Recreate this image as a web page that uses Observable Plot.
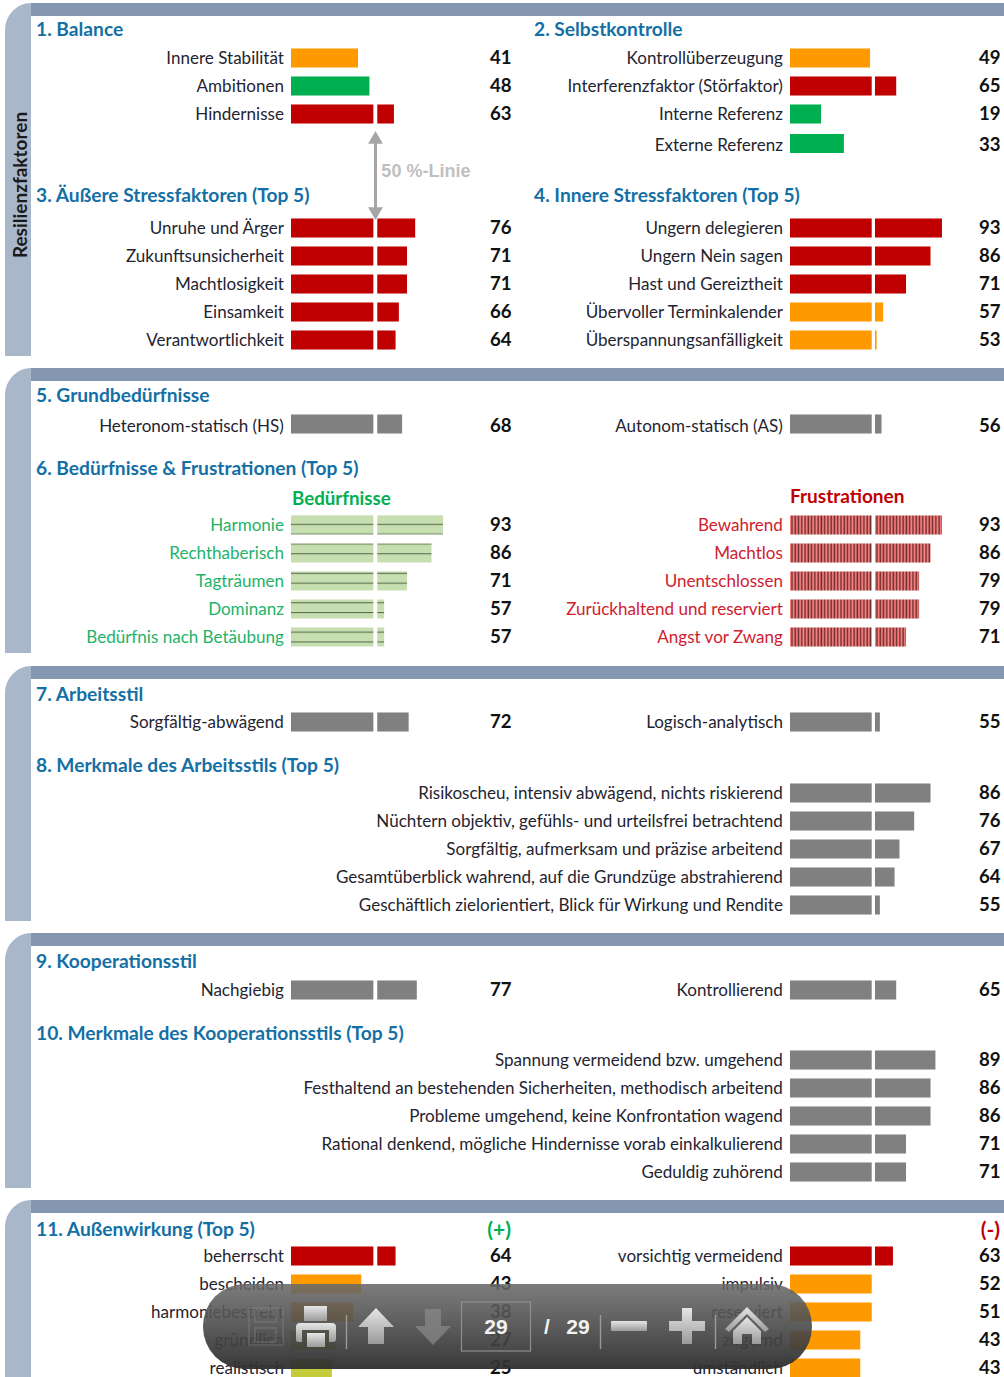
<!DOCTYPE html>
<html lang="de">
<head>
<meta charset="utf-8">
<script src="https://cdn.jsdelivr.net/npm/d3@7"></script>
<script src="https://cdn.jsdelivr.net/npm/@observablehq/plot@0.6"></script>
<style>
html,body{margin:0;padding:0;background:#fff;overflow:hidden}
#page{position:relative;width:1004px;height:1377px;overflow:hidden;font-family:Lato,sans-serif}
#page svg{position:absolute;background:transparent;overflow:visible}
.side{position:absolute;left:4.5px;width:26.5px;background:#a9b7cb;border-top-left-radius:27px 28px}
.top{position:absolute;left:31px;right:0;height:13px;background:#8596b0}
.h{position:absolute;font-weight:700;font-size:19.2px;line-height:24px;color:#146fa5;white-space:nowrap;transform:translateY(-50%)}
.s{position:absolute;font-weight:700;font-size:19px;line-height:24px;white-space:nowrap;transform:translateY(-50%)}
#vert{position:absolute;left:19px;top:185px;font-weight:700;font-size:19px;color:#1a1a1a;white-space:nowrap;transform:translate(-50%,-50%) rotate(-90deg)}
</style>
</head>
<body>
<div id="page"></div>
<script>
// ---- data ----
const balanceLabels = ["Innere Stabilität","Ambitionen","Hindernisse"];
const balanceValues = [41,48,63];
const balanceTones = ["mid","good","bad"];
const kontrolleLabels = ["Kontrollüberzeugung","Interferenzfaktor (Störfaktor)","Interne Referenz"];
const kontrolleValues = [49,65,19];
const kontrolleTones = ["mid","bad","good"];
const externLabels = ["Externe Referenz"];
const externValues = [33];
const externTones = ["good"];
const aeussereLabels = ["Unruhe und Ärger","Zukunftsunsicherheit","Machtlosigkeit","Einsamkeit","Verantwortlichkeit"];
const aeussereValues = [76,71,71,66,64];
const aeussereTones = ["bad","bad","bad","bad","bad"];
const innereLabels = ["Ungern delegieren","Ungern Nein sagen","Hast und Gereiztheit","Übervoller Terminkalender","Überspannungsanfälligkeit"];
const innereValues = [93,86,71,57,53];
const innereTones = ["bad","bad","bad","mid","mid"];
const bedarfLinksLabels = ["Heteronom-statisch (HS)"];
const bedarfLinksValues = [68];
const bedarfRechtsLabels = ["Autonom-statisch (AS)"];
const bedarfRechtsValues = [56];
const beduerfnisLabels = ["Harmonie","Rechthaberisch","Tagträumen","Dominanz","Bedürfnis nach Betäubung"];
const beduerfnisValues = [93,86,71,57,57];
const frustLabels = ["Bewahrend","Machtlos","Unentschlossen","Zurückhaltend und reserviert","Angst vor Zwang"];
const frustValues = [93,86,79,79,71];
const stilLinksLabels = ["Sorgfältig-abwägend"];
const stilLinksValues = [72];
const stilRechtsLabels = ["Logisch-analytisch"];
const stilRechtsValues = [55];
const stilMerkmalLabels = ["Risikoscheu, intensiv abwägend, nichts riskierend","Nüchtern objektiv, gefühls- und urteilsfrei betrachtend","Sorgfältig, aufmerksam und präzise arbeitend","Gesamtüberblick wahrend, auf die Grundzüge abstrahierend","Geschäftlich zielorientiert, Blick für Wirkung und Rendite"];
const stilMerkmalValues = [86,76,67,64,55];
const koopLinksLabels = ["Nachgiebig"];
const koopLinksValues = [77];
const koopRechtsLabels = ["Kontrollierend"];
const koopRechtsValues = [65];
const koopMerkmalLabels = ["Spannung vermeidend bzw. umgehend","Festhaltend an bestehenden Sicherheiten, methodisch arbeitend","Probleme umgehend, keine Konfrontation wagend","Rational denkend, mögliche Hindernisse vorab einkalkulierend","Geduldig zuhörend"];
const koopMerkmalValues = [89,86,86,71,71];
const wirkungPlusLabels = ["beherrscht","bescheiden","harmoniebestrebt","gründlich","realistisch"];
const wirkungPlusValues = [64,43,38,27,25];
const wirkungPlusTones = ["bad","mid","mid","low","low"];
const wirkungMinusLabels = ["vorsichtig vermeidend","impulsiv","reserviert","zögernd","umständlich"];
const wirkungMinusValues = [63,52,51,43,43];
const wirkungMinusTones = ["bad","mid","mid","mid","mid"];
const headings = ["1. Balance","2. Selbstkontrolle","3. Äußere Stressfaktoren (Top 5)","4. Innere Stressfaktoren (Top 5)","5. Grundbedürfnisse","6. Bedürfnisse & Frustrationen (Top 5)","7. Arbeitsstil","8. Merkmale des Arbeitsstils (Top 5)","9. Kooperationsstil","10. Merkmale des Kooperationsstils (Top 5)","11. Außenwirkung (Top 5)"];

// ---- layout and style ----
const page = document.getElementById("page");
const TONES = {bad:"#c00000",mid:"#ff9900",good:"#00b050",low:"#c4cc3c",neutral:"#808080",lines:"url(#hlines)",bars:"url(#vlines)"};
const INK = {plain:"#1f2430",green:"#22b36a",red:"#d0202e"};
const STEP = 28, BARSTART = 291, UNIT = 1.634;
const COLS = {
  left:{left:0,width:520,valueRight:511,gap:[50.4,52.8]},
  right:{left:499,width:505,valueRight:501,gap:[50,52]}
};
const same = (n,t)=>Array(n).fill(t);

function patterns(){
  return ()=>{
    const defs = d3.create("svg:defs");
    const h = defs.append("pattern").attr("id","hlines").attr("patternUnits","userSpaceOnUse")
      .attr("width",10).attr("height",9.8).attr("patternTransform","translate(0,3)");
    h.append("rect").attr("width",10).attr("height",9.8).attr("fill","#c7dfb0");
    h.append("rect").attr("y",0).attr("width",10).attr("height",1.1).attr("fill","#5b6f50");
    const v = defs.append("pattern").attr("id","vlines").attr("patternUnits","userSpaceOnUse")
      .attr("width",3.27).attr("height",10);
    v.append("rect").attr("width",3.27).attr("height",10).attr("fill","#ff8484");
    v.append("rect").attr("x",1.2).attr("width",1.5).attr("height",10).attr("fill","#6b2c2c");
    return defs.node();
  };
}

function block(labels, values, tones, colName, center, ink="plain", pat=false, barShift=0){
  const col = COLS[colName];
  const rows = labels.map((label,i)=>({label,value:values[i],tone:tones[i]}));
  const segs = rows.flatMap(d=>{
    if (d.value <= 50) return [{...d,from:0,to:d.value}];
    const s = [{...d,from:0,to:col.gap[0]}];
    if (d.value > col.gap[1]) s.push({...d,from:col.gap[1],to:d.value});
    return s;
  });
  const chart = Plot.plot({
    width:col.width, height:rows.length*STEP,
    marginLeft:BARSTART, marginRight:col.width-BARSTART-100*UNIT, marginTop:0, marginBottom:0,
    x:{domain:[0,100],axis:null},
    y:{domain:labels,axis:null,paddingInner:.32,paddingOuter:.16,round:false},
    color:{domain:Object.keys(TONES),range:Object.values(TONES)},
    style:{fontFamily:"Lato,sans-serif",background:"transparent"},
    marks:[
      ...(pat?[patterns()]:[]),
      Plot.barX(segs,{x1:"from",x2:"to",y:"label",fill:"tone",dy:barShift}),
      Plot.text(rows,{y:"label",text:"label",frameAnchor:"left",dx:-7.6,textAnchor:"end",fontSize:17.05,fill:INK[ink]}),
      Plot.text(rows,{y:"label",text:"value",frameAnchor:"right",dx:col.valueRight-(BARSTART+100*UNIT),textAnchor:"end",fontSize:18.6,fontWeight:700,fill:"#111"})
    ]
  });
  chart.style.left = col.left+"px";
  chart.style.top = (center-STEP/2)+"px";
  page.appendChild(chart);
}

// panels
[[2.5,355.5],[368,652.5],[665.5,920.5],[933,1187.5],[1200,1400]].forEach(([a,b])=>{
  const s=document.createElement("div");s.className="side";s.style.top=a+"px";s.style.height=(b-a)+"px";page.appendChild(s);
  const t=document.createElement("div");t.className="top";t.style.top=a+"px";page.appendChild(t);
});
const v=document.createElement("div");v.id="vert";v.textContent="Resilienzfaktoren";page.appendChild(v);

// headings
const headPos=[[36,28.5],[534,28.5],[36,194.5],[534,194.5],[36,395],[36,468],[36,694],[36,765],[36,961],[36,1033],[36,1229]];
headings.forEach((t,i)=>{
  const d=document.createElement("div");d.className="h";d.textContent=t;
  d.style.left=headPos[i][0]+"px";d.style.top=headPos[i][1]+"px";page.appendChild(d);
});
function sub(t,style,color){
  const d=document.createElement("div");d.className="s";d.textContent=t;d.style.cssText+=style+`;color:${color}`;page.appendChild(d);
}
sub("Bedürfnisse","left:292px;top:498px;font-size:18.7px",TONES.good);
sub("Frustrationen","left:790px;top:496px",TONES.bad);
sub("(+)","right:493px;top:1229px;font-size:21px",TONES.good);
sub("(-)","right:4px;top:1229px;font-size:21px",TONES.bad);

// bars
block(balanceLabels,balanceValues,balanceTones,"left",58);
block(kontrolleLabels,kontrolleValues,kontrolleTones,"right",58);
block(externLabels,externValues,externTones,"right",144.5,"plain",false,-1.5);
block(aeussereLabels,aeussereValues,aeussereTones,"left",228);
block(innereLabels,innereValues,innereTones,"right",228);
block(bedarfLinksLabels,bedarfLinksValues,["neutral"],"left",426,"plain",false,-2);
block(bedarfRechtsLabels,bedarfRechtsValues,["neutral"],"right",426,"plain",false,-2);
block(beduerfnisLabels,beduerfnisValues,same(5,"lines"),"left",525,"green",true);
block(frustLabels,frustValues,same(5,"bars"),"right",525,"red",true);
block(stilLinksLabels,stilLinksValues,["neutral"],"left",722);
block(stilRechtsLabels,stilRechtsValues,["neutral"],"right",722);
block(stilMerkmalLabels,stilMerkmalValues,same(5,"neutral"),"right",793);
block(koopLinksLabels,koopLinksValues,["neutral"],"left",990);
block(koopRechtsLabels,koopRechtsValues,["neutral"],"right",990);
block(koopMerkmalLabels,koopMerkmalValues,same(5,"neutral"),"right",1060);
block(wirkungPlusLabels,wirkungPlusValues,wirkungPlusTones,"left",1256);
block(wirkungMinusLabels,wirkungMinusValues,wirkungMinusTones,"right",1256);

// 50 % line annotation, on the same x scale as the left column bars
const fifty = Plot.plot({
  width:1004,height:1377,margin:0,
  x:{domain:[0,100],range:[BARSTART,BARSTART+100*UNIT],axis:null},
  y:{domain:[0,1377],range:[0,1377],axis:null},
  style:{fontFamily:"Lato,sans-serif",background:"transparent"},
  marks:[
    Plot.ruleX([51.4],{y1:140,y2:210,stroke:"#a6a6a6",strokeWidth:3}),
    Plot.dot([{x:51.4,y:139,a:0},{x:51.4,y:211,a:180}],{x:"x",y:"y",symbol:"triangle",r:5.5,fill:"#a6a6a6",rotate:"a"}),
    Plot.text(["50 %-Linie"],{x:()=>55,y:()=>171,text:d=>d,textAnchor:"start",fontFamily:"Liberation Sans",fontWeight:700,fontSize:18,fill:"#bfbfbf"})
  ]
});
fifty.style.left="0";fifty.style.top="0";
page.appendChild(fifty);

// viewer toolbar
const ns=`
<svg xmlns="http://www.w3.org/2000/svg" width="1004" height="1377" style="left:0;top:0">
<defs>
<linearGradient id="tb" x1="0" y1="0" x2="0" y2="1"><stop offset="0" stop-color="#6a6a6a" stop-opacity=".88"/><stop offset="1" stop-color="#2e2e2e" stop-opacity=".95"/></linearGradient>
<linearGradient id="ic" x1="0" y1="0" x2="0" y2="1"><stop offset="0" stop-color="#e6e6e6"/><stop offset="1" stop-color="#9a9a9a"/></linearGradient>
</defs>
<rect x="203" y="1284" width="609" height="85" rx="42" fill="url(#tb)"/>
<g fill="none" stroke="#8c8c8c" stroke-opacity=".3" stroke-width="2"><rect x="249" y="1308" width="34" height="37"/><rect x="255" y="1310" width="21" height="12"/><rect x="255" y="1328" width="21" height="14"/></g>
<g fill="url(#ic)"><rect x="304" y="1306" width="23" height="15"/><path d="M300 1323h32q4 0 4 4v12q0 3-3 3h-4v-12h-27v12h-4q-2 0-2-3v-12q0-4 4-4z"/><rect x="307" y="1333" width="18" height="14"/>
<path d="M376 1308l18 19h-10v17h-16v-17h-10z"/>
<rect x="611" y="1321" width="36" height="10" rx="1"/><path d="M682 1308h10v13h13v10h-13v13h-10v-13h-13v-10h13z"/>
<path d="M747 1307l22 22-4 3-18-18-18 18-4-3z"/><path d="M733 1331l14-14 14 14v13h-9v-10h-10v10h-9z"/></g>
<path d="M425 1309h16v17h10l-18 19-18-19h10z" fill="#8a8a8a" fill-opacity=".7"/>
<g stroke="#9a9a9a" stroke-width="1.4"><line x1="346.5" y1="1315" x2="346.5" y2="1349"/><line x1="600.5" y1="1315" x2="600.5" y2="1349"/><line x1="715.5" y1="1315" x2="715.5" y2="1349"/></g>
<rect x="461.5" y="1302" width="69" height="49" fill="none" stroke="#8f8f8f" stroke-width="1.2"/>
<g font-family="Liberation Sans" font-weight="700" font-size="21" fill="#f2f2f2" text-anchor="middle"><text x="496" y="1334">29</text><text x="547" y="1334">/</text><text x="578" y="1334">29</text></g>
</svg>`;
const holder=document.createElement("div");holder.innerHTML=ns;page.appendChild(holder.firstElementChild);
</script>
</body>
</html>
